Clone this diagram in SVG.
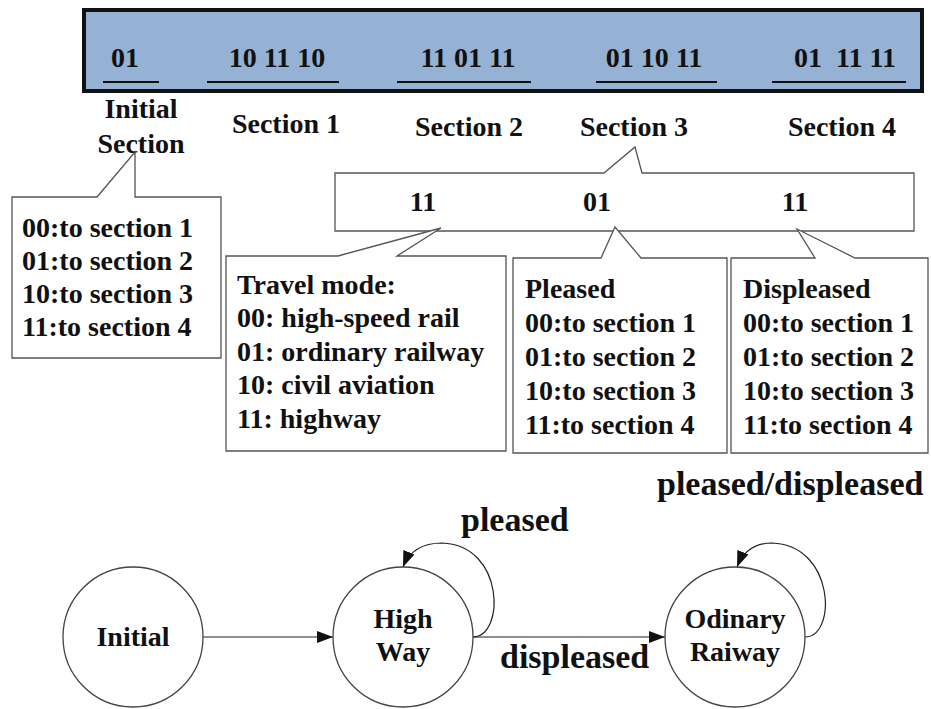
<svg xmlns="http://www.w3.org/2000/svg" width="931" height="709" viewBox="0 0 931 709">
<style>
text{font-family:"Liberation Serif","Times New Roman",serif;font-weight:bold;fill:#111;}
.t28{font-size:28px;}
.t34{font-size:34px;}
.mid{text-anchor:middle;}
.call{fill:#fff;stroke:#555;stroke-width:1.3;}
.ul{stroke:#111;stroke-width:2;}
.state{fill:#fff;stroke:#444;stroke-width:1.3;}
.edge{fill:none;stroke:#222;stroke-width:1.2;}
</style>
<defs>
<marker id="arr" viewBox="0 0 16 12" refX="16" refY="6" markerWidth="16" markerHeight="12" markerUnits="userSpaceOnUse" orient="auto">
<path d="M0,0 L16,6 L0,12 Z" fill="#111"/>
</marker>
</defs>
<rect width="931" height="709" fill="#fff"/>
<g id="chromosome">
<rect x="84" y="10" width="838" height="81" fill="#95B1D3" stroke="#111" stroke-width="4"/>
<text class="t28 mid" x="125" y="67">01</text>
<text class="t28 mid" x="277" y="67">10 11 10</text>
<text class="t28 mid" x="468" y="67">11 01 11</text>
<text class="t28 mid" x="654" y="67">01 10 11</text>
<text class="t28 mid" x="845" y="67" xml:space="preserve">01  11 11</text>
<line class="ul" x1="103" y1="82" x2="159" y2="82"/>
<line class="ul" x1="207" y1="82" x2="339" y2="82"/>
<line class="ul" x1="397" y1="82" x2="531" y2="82"/>
<line class="ul" x1="596" y1="82" x2="717" y2="82"/>
<line class="ul" x1="772" y1="82" x2="906" y2="82"/>
</g>
<g id="section-labels">
<text class="t28 mid" x="141" y="118">Initial</text>
<text class="t28 mid" x="141" y="153">Section</text>
<text class="t28 mid" x="286" y="133">Section 1</text>
<text class="t28 mid" x="469" y="136">Section 2</text>
<text class="t28 mid" x="634" y="136">Section 3</text>
<text class="t28 mid" x="842" y="136">Section 4</text>
</g>
<g id="initial-callout">
<path class="call" d="M12,197 L97,197 L135,152 L135,197 L221,197 L221,358 L12,358 Z"/>
<text class="t28" x="22" y="237">00:to section 1</text>
<text class="t28" x="22" y="270">01:to section 2</text>
<text class="t28" x="22" y="303">10:to section 3</text>
<text class="t28" x="22" y="336">11:to section 4</text>
</g>
<g id="section3-callout">
<path class="call" d="M335,173 L604,173 L635,147 L642,173 L914,173 L914,231 L335,231 Z"/>
<text class="t28 mid" x="423" y="211">11</text>
<text class="t28 mid" x="597" y="211">01</text>
<text class="t28 mid" x="795" y="211">11</text>
</g>
<g id="travel-mode-callout">
<path class="call" d="M226,256 L338,256 L441,228 L397,256 L506,256 L506,451 L226,451 Z"/>
<text class="t28" x="237" y="294">Travel mode:</text>
<text class="t28" x="237" y="327">00: high-speed rail</text>
<text class="t28" x="237" y="361">01: ordinary railway</text>
<text class="t28" x="237" y="394">10: civil aviation</text>
<text class="t28" x="237" y="428">11: highway</text>
</g>
<g id="pleased-callout">
<path class="call" d="M513,258 L601,258 L615,227 L641,258 L727,258 L727,453 L513,453 Z"/>
<text class="t28" x="525" y="298">Pleased</text>
<text class="t28" x="525" y="332">00:to section 1</text>
<text class="t28" x="525" y="366">01:to section 2</text>
<text class="t28" x="525" y="400">10:to section 3</text>
<text class="t28" x="525" y="434">11:to section 4</text>
</g>
<g id="displeased-callout">
<path class="call" d="M731,258 L815,258 L797,229 L855,258 L928,258 L928,453 L731,453 Z"/>
<text class="t28" x="743" y="298">Displeased</text>
<text class="t28" x="743" y="332">00:to section 1</text>
<text class="t28" x="743" y="366">01:to section 2</text>
<text class="t28" x="743" y="400">10:to section 3</text>
<text class="t28" x="743" y="434">11:to section 4</text>
</g>
<g id="connectors">
<line class="edge" x1="203" y1="637" x2="333" y2="637" marker-end="url(#arr)"/>
<line class="edge" x1="473" y1="637" x2="665" y2="637" marker-end="url(#arr)"/>
<path class="edge" d="M473,637 C505,637 505,545 442,543 C422,543 409,552 403,567" marker-end="url(#arr)"/>
<path class="edge" d="M805,637 C837,637 835,545 772,543 C755,543 743,552 737,567" marker-end="url(#arr)"/>
</g>
<g id="edge-labels">
<text class="t34" x="657" y="495">pleased/displeased</text>
<text class="t34" x="461" y="531">pleased</text>
<text class="t34" x="500" y="668">displeased</text>
</g>
<g id="state-initial">
<circle class="state" cx="133" cy="637" r="70"/>
<text class="t28 mid" x="133" y="646">Initial</text>
</g>
<g id="state-highway">
<circle class="state" cx="403" cy="637" r="70"/>
<text class="t28 mid" x="403" y="628">High</text>
<text class="t28 mid" x="403" y="661">Way</text>
</g>
<g id="state-ordinary">
<circle class="state" cx="735" cy="637" r="70"/>
<text class="t28 mid" x="735" y="628">Odinary</text>
<text class="t28 mid" x="735" y="661">Raiway</text>
</g>
</svg>
